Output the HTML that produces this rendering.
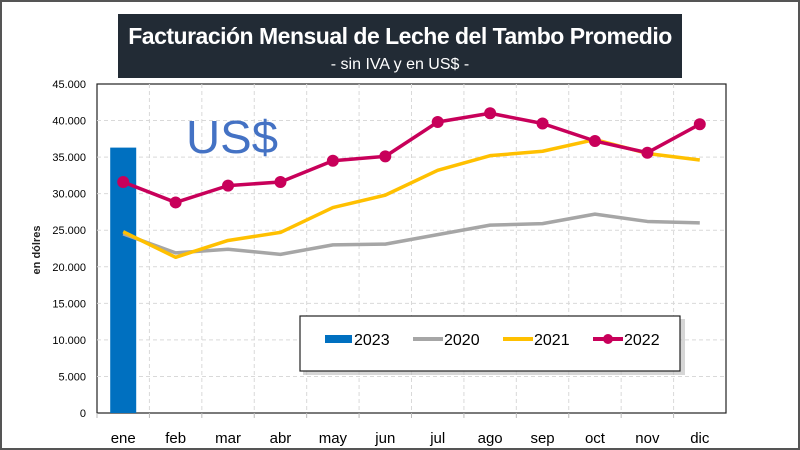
<!DOCTYPE html>
<html><head><meta charset="utf-8"><style>
body{margin:0;background:#fff;}
#wrap{position:relative;width:800px;height:450px;overflow:hidden;background:#fff;font-family:"Liberation Sans",sans-serif;}
#frame{position:absolute;left:0;top:0;width:796px;height:446px;border:2px solid #555;}
#title-box{position:absolute;left:118px;top:14px;width:564px;height:64px;background:#222b35;color:#fff;text-align:center;}
</style></head><body>
<div id="wrap">
<div id="frame"></div>
<div id="title-box">
 <div style="font-size:23px;font-weight:bold;margin-top:9px;letter-spacing:-0.5px;">Facturación Mensual de Leche del Tambo Promedio</div>
 <div style="font-size:16px;margin-top:6px;">- sin IVA y en US$ -</div>
</div>
<svg id="chart" width="800" height="450" style="position:absolute;left:0;top:0"></svg>
</div>
<script>
const categories=["ene","feb","mar","abr","may","jun","jul","ago","sep","oct","nov","dic"];
const yTicks=[0,5000,10000,15000,20000,25000,30000,35000,40000,45000];
const yTickLabels=["0","5.000","10.000","15.000","20.000","25.000","30.000","35.000","40.000","45.000"];
const s2023=[36300];
const s2020=[24500,21900,22400,21700,23000,23100,24400,25700,25900,27200,26200,26000];
const s2021=[24800,21300,23600,24700,28100,29800,33200,35200,35800,37400,35500,34600];
const s2022=[31600,28800,31100,31600,34500,35100,39800,41000,39600,37200,35600,39500];

const svg=document.getElementById('chart');
const NS='http://www.w3.org/2000/svg';
const L=97,R=726,T=84,B=413,yMax=45000;
const cw=(R-L)/categories.length;
const x=i=>L+cw*(i+0.5);
const y=v=>B-(v/yMax)*(B-T);
function mk(tag,attrs,parent){const e=document.createElementNS(NS,tag);for(const k in attrs)e.setAttribute(k,attrs[k]);(parent||svg).appendChild(e);return e;}

// plot border
const pb=mk('rect',{x:L,y:T,width:R-L,height:B-T,fill:'#fff',stroke:'#222','stroke-width':1.2});


// gridlines
yTicks.forEach((t,i)=>{
 if(t>0&&t<yMax){const g=mk('line',{x1:L,x2:R,y1:y(t),y2:y(t),stroke:'#d9d9d9','stroke-dasharray':'4,3'});
 
 }
 const tl=mk('text',{x:L-11,y:y(t)+4,'text-anchor':'end','font-size':11,fill:'#000'});
 tl.textContent=yTickLabels[i];
 
 
});
categories.forEach((c,i)=>{
 if(i>0){const g=mk('line',{x1:L+cw*i,x2:L+cw*i,y1:T,y2:B,stroke:'#d9d9d9','stroke-dasharray':'4,3'});
 
 }
 const tk=mk('line',{x1:L+cw*i,x2:L+cw*i,y1:B,y2:B+5,stroke:'#bbb'});
 
 
 const tl=mk('text',{x:x(i),y:B+30,'text-anchor':'middle','font-size':15,fill:'#000'});
 tl.textContent=c;
 
 
});
// y axis title
const yt=mk('text',{x:0,y:0,transform:'translate(40,250) rotate(-90)','text-anchor':'middle','font-size':11,'font-weight':'bold',fill:'#222'});
yt.textContent='en dólres';


// US$ label
const us=mk('text',{x:186,y:153,'font-size':46,fill:'#4472c4',textLength:92,lengthAdjust:'spacingAndGlyphs'});
us.textContent='US$';


// bar 2023
s2023.forEach((v,i)=>{const b=mk('rect',{x:x(i)-13,y:y(v),width:26,height:B-y(v),fill:'#0070c0'});
 
 });
function line(arr,color,name,w){
 const p=mk('polyline',{points:arr.map((v,i)=>x(i)+','+y(v)).join(' '),fill:'none',stroke:color,'stroke-width':w,'stroke-linejoin':'round'});
 
 
}
line(s2020,'#a6a6a6','line-2020',3.5);
line(s2021,'#ffc000','line-2021',3.5);
line(s2022,'#c8005a','line-2022',3.5);
s2022.forEach((v,i)=>{const c=mk('circle',{cx:x(i),cy:y(v),r:6,fill:'#c8005a'});
 
 });
// legend
const lg=mk('g',{});


mk('rect',{x:303,y:319,width:382,height:56,fill:'#bbb',opacity:0.6},lg);
mk('rect',{x:300,y:316,width:380,height:55,fill:'#fff',stroke:'#222','stroke-width':1.2},lg);
const items=[['2023','#0070c0','bar'],['2020','#a6a6a6','line'],['2021','#ffc000','line'],['2022','#c8005a','marker']];
const lx=[325,413,503,593];
items.forEach((it,k)=>{
 const g=mk('g',{},lg);
 
 
 if(it[2]==='bar')mk('rect',{x:lx[k],y:335,width:27,height:8,fill:it[1]},g);
 else mk('line',{x1:lx[k],x2:lx[k]+30,y1:339,y2:339,stroke:it[1],'stroke-width':4},g);
 if(it[2]==='marker')mk('circle',{cx:lx[k]+15,cy:339,r:5,fill:it[1]},g);
 const t=mk('text',{x:lx[k]+(it[2]==='bar'?29:31),y:345,'font-size':16,fill:'#000'},g);
 t.textContent=it[0];
});
</script>
</body></html>
